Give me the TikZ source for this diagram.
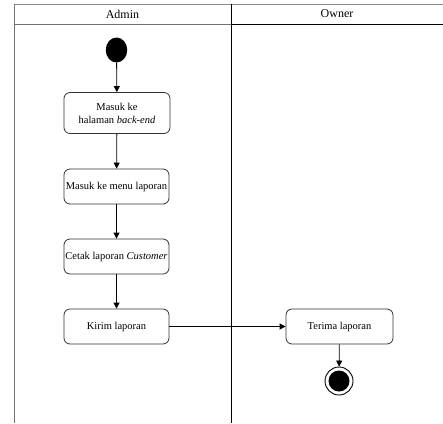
\documentclass[tikz,border=0pt]{standalone}
\usepackage{fontspec}
\setmainfont{Liberation Serif}
\usetikzlibrary{arrows.meta,shapes.geometric}
\begin{document}
\begin{tikzpicture}[x=1pt,y=-1pt,
  lane/.style={line width=0.9pt},
  action/.style={draw=black!80, line width=0.8pt, rounded corners=6pt, fill=white,
    minimum width=105pt, minimum height=35pt, inner sep=1pt, align=center,
    font=\fontsize{10.5}{13}\selectfont},
  flow/.style={line width=0.8pt, -{Triangle[length=6pt,width=6pt]}},
  header/.style={font=\fontsize{12}{14}\selectfont, inner sep=0pt}]
  \useasboundingbox (0,0) rectangle (443,423);

  % swimlane frame
  \draw[lane, black!45] (14,4) -- (443,4);
  \draw[lane, black!55] (14,4) -- (14,423);
  \draw[lane, black!55] (14,24) -- (231,24);
  \draw[lane, black] (231,24) -- (443,24);
  \draw[lane, black] (231,4) -- (231,423);
  \node[header] (hAdmin) at (122.5,14) {Admin};
  \node[header] (hOwner) at (337,14) {Owner};

  % initial node
  \node[draw=none, fill=black, ellipse, minimum width=21.5pt, minimum height=25pt, inner sep=0pt] (start) at (116.5,50) {};

  % actions
  \node[action, minimum width=106pt, minimum height=41pt] (b1) at (117,113)
    {Masuk ke\\halaman \textit{back-end}};
  \node[action] (b2) at (116.5,186.5) {Masuk ke menu laporan};
  \node[action] (b3) at (116.5,256.5) {Cetak laporan \textit{Customer}};
  \node[action] (b4) at (116.5,326.5) {Kirim laporan};
  \node[action, minimum width=107pt] (b5) at (339.5,326.5) {Terima laporan};

  % final node
  \node[circle, draw=black, line width=0.9pt, fill=white, minimum size=28pt, inner sep=0pt] (end) at (339,381) {};
  \node[circle, fill=black, minimum size=21pt, inner sep=0pt] (endIn) at (end.center) {};

  % control flow
  \draw[flow] (start) -- (b1);
  \draw[flow] (b1) -- (b2);
  \draw[flow] (b2) -- (b3);
  \draw[flow] (b3) -- (b4);
  \draw[flow] (b4) -- (b5);
  \draw[flow] (b5) -- (end);
\end{tikzpicture}
\end{document}
